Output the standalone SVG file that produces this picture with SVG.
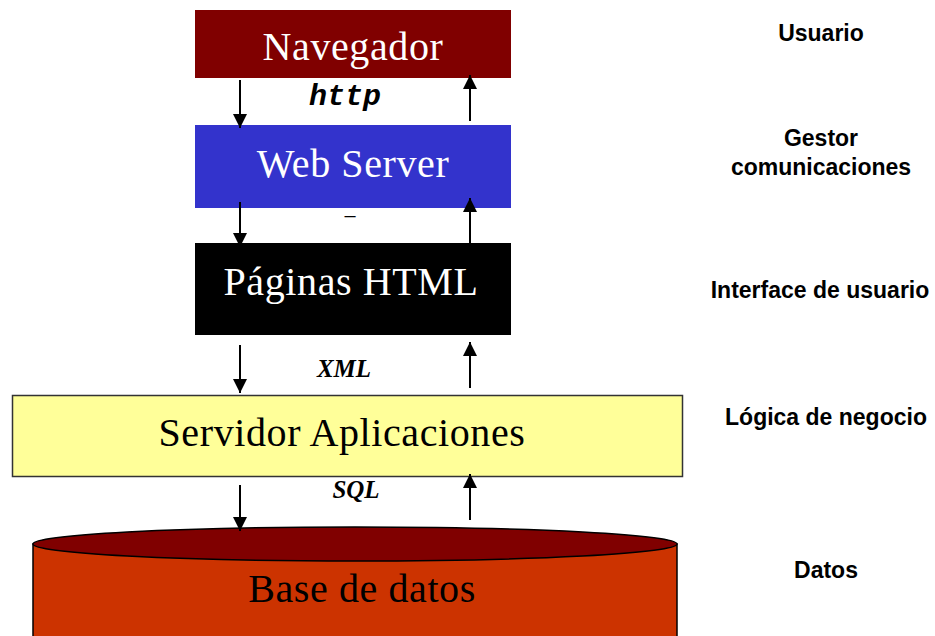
<svg xmlns="http://www.w3.org/2000/svg" width="935" height="636" viewBox="0 0 935 636">
<style>
.box{font-family:"Liberation Serif","Times New Roman",serif;font-size:40px;text-anchor:middle;letter-spacing:0.6px}
.lbl{font-family:"Liberation Sans",Arial,sans-serif;font-size:23px;font-weight:bold;text-anchor:middle;fill:#000}
.proto{font-family:"Liberation Serif","Times New Roman",serif;font-size:25px;font-weight:bold;font-style:italic;text-anchor:middle;fill:#000}
.conn line{stroke:#000;stroke-width:2}
</style>
<defs>
<marker id="ah2" viewBox="0 0 10 10" refX="10" refY="5" markerWidth="16" markerHeight="14" markerUnits="userSpaceOnUse" orient="auto">
<path d="M0,0 L10,5 L0,10 z" fill="#000"/>
</marker>
</defs>
<rect width="935" height="636" fill="#fff"/>
<g id="navegador">
<rect x="195" y="10" width="316" height="68" fill="#800000"/>
<text class="box" x="353" y="60" fill="#fff">Navegador</text>
</g>
<g id="webserver">
<rect x="195" y="125" width="316" height="83" fill="#3333cc"/>
<text class="box" x="353" y="177" fill="#fff">Web Server</text>
</g>
<g id="paginas">
<rect x="195" y="243" width="316" height="92" fill="#000"/>
<text class="box" x="351" y="295" fill="#fff">Páginas HTML</text>
</g>
<g id="servidor">
<rect x="12.5" y="395.5" width="670" height="81" fill="#ffff99" stroke="#333" stroke-width="1.5"/>
<text class="box" x="342" y="446" fill="#000" font-size="41">Servidor Aplicaciones</text>
</g>
<g id="basedatos">
<path d="M33,544 L33,640 L677,640 L677,544 Z" fill="#cc3300" stroke="#000" stroke-width="1.5"/>
<ellipse cx="355" cy="544" rx="322" ry="17" fill="#800000" stroke="#000" stroke-width="1.5"/>
<text class="box" x="362" y="602" fill="#000" font-size="38">Base de datos</text>
</g>
<g class="conn" id="connectors">
<line x1="240" y1="80" x2="240" y2="128" marker-end="url(#ah2)"/>
<line x1="470" y1="121" x2="470" y2="75" marker-end="url(#ah2)"/>
<line x1="240" y1="202" x2="240" y2="247" marker-end="url(#ah2)"/>
<line x1="470" y1="243" x2="470" y2="198" marker-end="url(#ah2)"/>
<line x1="240" y1="345" x2="240" y2="393" marker-end="url(#ah2)"/>
<line x1="470" y1="388" x2="470" y2="342" marker-end="url(#ah2)"/>
<line x1="240" y1="485" x2="240" y2="531" marker-end="url(#ah2)"/>
<line x1="470" y1="520" x2="470" y2="474" marker-end="url(#ah2)"/>
</g>
<g id="protocols">
<text x="345" y="105" font-family="'Liberation Mono','Courier New',monospace" font-size="30" font-weight="bold" font-style="italic" text-anchor="middle">http</text>
<text x="350" y="222" font-family="'Liberation Sans',Arial,sans-serif" font-size="20" text-anchor="middle">–</text>
<text class="proto" x="344" y="377">XML</text>
<text class="proto" x="356" y="498">SQL</text>
</g>
<g id="layers">
<text class="lbl" x="821" y="41">Usuario</text>
<text class="lbl" x="821" y="146">Gestor</text>
<text class="lbl" x="821" y="175">comunicaciones</text>
<text class="lbl" x="820" y="298">Interface de usuario</text>
<text class="lbl" x="826" y="425">Lógica de negocio</text>
<text class="lbl" x="826" y="578">Datos</text>
</g>
</svg>
